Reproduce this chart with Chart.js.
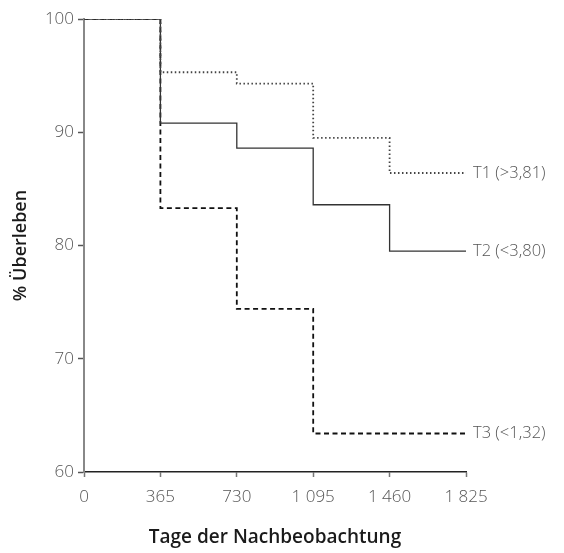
<!DOCTYPE html>
<html>
<head>
<meta charset="utf-8">
<script src="https://cdn.jsdelivr.net/npm/chart.js@4.4.1/dist/chart.umd.min.js"></script>
<style>
  html, body { margin: 0; padding: 0; background: #fff; }
  #wrap { width: 564px; height: 553px; }
</style>
</head>
<body>
<div id="wrap"><canvas id="km-chart" width="564" height="553"></canvas></div>
<script>
// Tage der Nachbeobachtung
const days = [0, 365, 730, 1095, 1460, 1825];
const xTickLabels = ["0", "365", "730", "1 095", "1 460", "1 825"];
const yTicks = [60, 70, 80, 90, 100];

// % Überleben je Gruppe
const t1Values = [100, 95.3, 94.3, 89.5, 86.4, 86.4];
const t2Values = [100, 90.8, 88.6, 83.6, 79.5, 79.5];
const t3Values = [100, 83.3, 74.4, 63.4, 63.4, 63.4];
const seriesNames = ["T1 (>3,81)", "T2 (<3,80)", "T3 (<1,32)"];

const toPoints = (vals) => vals.map((v, i) => ({ x: days[i], y: v }));

// Beschriftung am Ende der Linien
const endLabels = {
  id: "endLabels",
  afterDatasetsDraw(chart) {
    const c = chart.ctx;
    c.save();
    c.font = "300 16.5px 'Open Sans'";
    c.fillStyle = "#555";
    c.textBaseline = "middle";
    chart.data.datasets.forEach((ds, i) => {
      const pts = chart.getDatasetMeta(i).data;
      const last = pts[pts.length - 1];
      c.fillText(seriesNames[i], last.x + 7, last.y);
    });
    c.restore();
  },
};

const ctx = document.getElementById("km-chart").getContext("2d");
const kmChart = new Chart(ctx, {
  type: "line",
  data: {
    datasets: [
      {
        label: seriesNames[0],
        data: toPoints(t1Values),
        borderColor: "#444",
        borderWidth: 1.8,
        borderDash: [1.5, 2.5],
        stepped: "before",
        pointRadius: 0,
        fill: false,
      },
      {
        label: seriesNames[1],
        data: toPoints(t2Values),
        borderColor: "#333",
        borderWidth: 1.3,
        stepped: "before",
        pointRadius: 0,
        fill: false,
      },
      {
        label: seriesNames[2],
        data: toPoints(t3Values),
        borderColor: "#111",
        borderWidth: 1.8,
        borderDash: [5, 3.5],
        stepped: "before",
        pointRadius: 0,
        fill: false,
      },
    ],
  },
  options: {
    responsive: false,
    animation: false,
    layout: { padding: { top: 19, right: 98, left: 0, bottom: 0 } },
    plugins: {
      legend: { display: false },
      tooltip: { enabled: false },
    },
    scales: {
      x: {
        type: "linear",
        min: 0,
        max: 1825,
        afterBuildTicks: (scale) => {
          scale.ticks = days.map((d) => ({ value: d }));
        },
        afterFit: (scale) => {
          scale.height = 81;
        },
        ticks: {
          callback: (v) => xTickLabels[days.indexOf(v)],
          color: "#555",
          font: { family: "'Open Sans'", size: 17, weight: "300" },
          padding: 10,
          maxRotation: 0,
        },
        grid: {
          drawOnChartArea: false,
          color: "#777",
          tickLength: 5,
          tickWidth: 1.5,
        },
        border: { color: "#222", width: 1.5 },
        title: {
          display: true,
          text: "Tage der Nachbeobachtung",
          color: "#1a1a1a",
          font: { family: "'Open Sans'", size: 19, weight: "600" },
          padding: { top: 14, bottom: 4 },
        },
      },
      y: {
        min: 60,
        max: 100,
        afterBuildTicks: (scale) => {
          scale.ticks = yTicks.map((v) => ({ value: v }));
        },
        afterFit: (scale) => {
          scale.width = 84;
        },
        ticks: {
          color: "#555",
          font: { family: "'Open Sans'", size: 17, weight: "300" },
          padding: 4,
        },
        grid: {
          drawOnChartArea: false,
          color: "#555",
          tickLength: 6,
          tickWidth: 1.5,
        },
        border: { color: "#888", width: 2 },
        title: {
          display: true,
          text: "% Überleben",
          color: "#1a1a1a",
          font: { family: "'Open Sans'", size: 18, weight: "600" },
          padding: { top: 10, bottom: 8 },
        },
      },
    },
  },
  plugins: [endLabels],
});
</script>
</body>
</html>
